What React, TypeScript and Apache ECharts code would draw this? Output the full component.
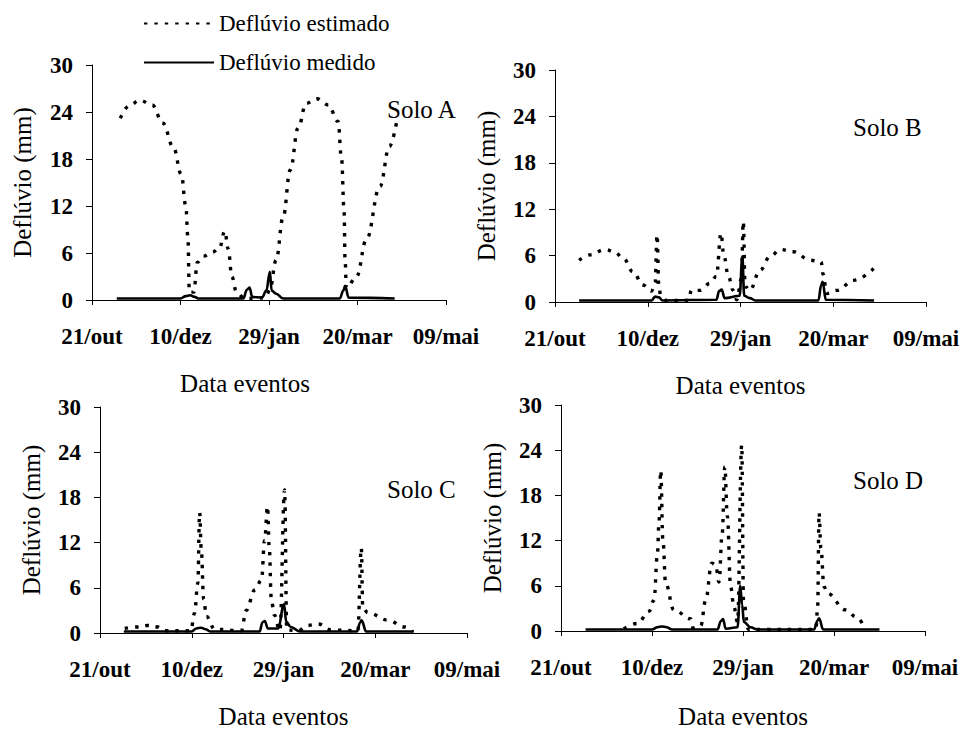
import React, { useEffect, useRef } from 'react';
import * as echarts from 'echarts';

// Tick labels of the event-date axis (one every 50 days from 21/out)
const dateLabels = ['21/out', '10/dez', '29/jan', '20/mar', '09/mai'];

// [days after 21/out, runoff in mm]
const soloAEstimado: [number, number][] = [
  [16, 23.2], [21, 24.8], [27, 25.5], [34, 24.9], [40, 22.6], [46, 19.5], [50.5, 16],
  [53, 12], [54.2, 8], [55, 1.0], [57.5, 1.0], [59.5, 4.8], [63, 5.6], [68, 6.1],
  [72, 6.6], [75, 8.8], [77, 6.5], [79, 3], [81.5, 1.1], [86, 0.2], [92, 0.2],
  [98, 0.3], [100.5, 1.3], [104, 5.1], [108, 10.6], [112, 16.6], [116.5, 22],
  [121, 25.1], [127, 25.7], [133.5, 24.9], [139, 22.8], [141, 18], [142.4, 11.5],
  [143, 5], [143.7, 1.5], [149.5, 3], [155, 7.7], [162.7, 14.5], [168, 19.6], [172, 22.6],
];
const soloAMedido: [number, number][] = [
  [14, 0.2], [50, 0.2], [53, 0.5], [55.5, 0.6], [58, 0.4], [60, 0.2], [85.5, 0.2],
  [87.5, 1.3], [89, 1.6], [90.5, 0.4], [96, 0.3], [98.5, 1.2], [100.5, 3.6],
  [101.5, 1.2], [104, 0.8], [108, 0.2], [140, 0.2], [142, 1.2], [143, 1.8],
  [145, 0.3], [171, 0.2],
];

const soloBEstimado: [number, number][] = [
  [13, 5.4], [19, 6.1], [27, 6.8], [32, 6.5], [37, 5.6], [42, 3.9], [47.5, 2.2],
  [52, 1.4], [54, 2.5], [55, 8.7], [56, 2], [57, 0.8], [60, 0.2], [72, 0.2],
  [73.5, 1.5], [78, 1.5], [83.5, 2.4], [87, 3.3], [89.5, 8.9], [91, 6], [93.5, 3.3],
  [96, 1.5], [98, 0.3], [100.5, 3], [101.5, 10.4], [102.5, 2], [105, 1.5],
  [110.5, 4.1], [116, 5.9], [121.5, 6.8], [128.5, 6.5], [137.5, 5.4], [143.5, 5.2],
  [144.5, 3.6], [146.5, 1.1], [152, 1.5], [161, 2.8], [173, 4.6],
];
const soloBMedido: [number, number][] = [
  [13, 0.2], [52, 0.2], [54, 0.7], [56, 0.6], [58, 0.2], [87, 0.3], [88.5, 1.4],
  [89.8, 1.6], [91.5, 0.5], [99.5, 0.8], [101, 5.9], [102, 0.8], [105, 0.5],
  [108, 0.2], [142, 0.2], [143.5, 2.2], [144.3, 2.6], [146, 0.3], [172, 0.2],
];

const soloCEstimado: [number, number][] = [
  [13.5, 0.6], [20.5, 0.8], [26, 1.0], [31.5, 0.8], [35, 0.3], [49.5, 0.3],
  [51.5, 2.6], [53.3, 6.6], [54.3, 16], [55.2, 11], [56.5, 4.5], [58, 2.2],
  [62.5, 0.5], [77, 0.3], [79.7, 3], [84.3, 5.7], [88, 7], [89.7, 12.3],
  [91.3, 16.8], [92.2, 11.5], [93.4, 4.4], [95, 2.4], [98, 0.3], [100.6, 19],
  [101.8, 0.4], [108, 0.3], [113, 1.0], [119, 1.2], [126, 0.4], [140.5, 0.3],
  [142.4, 11.3], [143.2, 3.3], [146, 2.7], [157, 1.7], [166, 0.8], [170.5, 0.2],
];
const soloCMedido: [number, number][] = [
  [13, 0.2], [50, 0.2], [52.5, 0.6], [55, 0.7], [57.5, 0.5], [60, 0.2], [87, 0.2],
  [88.5, 1.4], [89.8, 1.6], [91.5, 0.6], [97, 0.6], [100.3, 3.8], [101.5, 1.5],
  [104, 0.8], [109, 0.2], [140, 0.2], [141.8, 1.4], [142.6, 1.7], [145, 0.2],
  [171, 0.2],
];

const soloDEstimado: [number, number][] = [
  [34.5, 0.3], [42, 1.0], [48.4, 2.6], [51.1, 4.1], [53, 10.3], [53.8, 14.3],
  [54.8, 21.3], [56, 12], [57.5, 6.3], [62, 2.8], [71.3, 1.6], [72.5, 0.4],
  [76.8, 0.7], [79.5, 4.1], [82.8, 9], [85, 8.8], [86.8, 6.5], [88.6, 13],
  [90, 21.8], [91.4, 15.2], [93.2, 5.9], [95, 3.2], [97, 1.2], [99.3, 24.7],
  [100.3, 4], [103, 0.2], [140, 0.2], [141, 3], [141.8, 15.7], [142.8, 11],
  [144.5, 5.9], [146.3, 5], [156.4, 2.8], [162, 1.9], [166.5, 0.6],
];
const soloDMedido: [number, number][] = [
  [13.5, 0.2], [50, 0.2], [53, 0.5], [55.5, 0.6], [58, 0.5], [61, 0.2], [86, 0.2],
  [87.8, 1.3], [89, 1.6], [90.5, 0.3], [97, 0.5], [98.5, 6], [99.5, 3.5],
  [100.5, 1.2], [104, 0.5], [108, 0.2], [139, 0.2], [141, 1.4], [141.8, 1.7],
  [144, 0.2], [175, 0.2],
];

const soilNames = ['Solo A', 'Solo B', 'Solo C', 'Solo D'];
const estimated = [soloAEstimado, soloBEstimado, soloCEstimado, soloDEstimado];
const measured = [soloAMedido, soloBMedido, soloCMedido, soloDMedido];

const SERIES_EST = 'Deflúvio estimado';
const SERIES_MED = 'Deflúvio medido';

// Panel placement (pixels)
const grids = [
  { left: 92, top: 65, width: 354, height: 235 },
  { left: 555, top: 70, width: 371, height: 232 },
  { left: 100, top: 407, width: 367, height: 227 },
  { left: 561, top: 405, width: 364, height: 227 },
];
const soilLabelPos = [
  { left: 387, top: 97 },
  { left: 853, top: 115 },
  { left: 387, top: 477 },
  { left: 853, top: 468 },
];
const xNamePadding = [[0, 48, 0, 0], 0, 0, 0];
const xNameGap = [71, 71, 71, 73];
const yNameGap = [57, 56, 56, 56];

const FONT = 'Liberation Serif';

export default function App() {
  const ref = useRef<HTMLDivElement>(null);

  useEffect(() => {
    if (!ref.current) return;
    const chart = echarts.init(ref.current, undefined, { renderer: 'svg' });

    const tickLabel = {
      color: '#000',
      fontSize: 23,
      fontWeight: 'bold' as const,
      fontFamily: FONT,
    };

    const xAxis = grids.map((_, i) => ({
      gridIndex: i,
      type: 'value' as const,
      min: 0,
      max: 200,
      interval: 50,
      axisLine: { show: true, onZero: false, lineStyle: { color: '#000', width: 1 } },
      axisTick: { show: true, length: 5, lineStyle: { color: '#000', width: 1 } },
      splitLine: { show: false },
      axisLabel: {
        ...tickLabel,
        margin: 25,
        formatter: (v: number) => dateLabels[Math.round(v / 50)] ?? '',
      },
      name: 'Data eventos',
      nameLocation: 'middle' as const,
      nameGap: xNameGap[i],
      nameTextStyle: {
        color: '#000',
        fontSize: 25,
        fontFamily: FONT,
        padding: xNamePadding[i],
      },
    }));

    const yAxis = grids.map((_, i) => ({
      gridIndex: i,
      type: 'value' as const,
      min: 0,
      max: 30,
      interval: 6,
      axisLine: { show: true, lineStyle: { color: '#000', width: 1 } },
      axisTick: { show: true, length: 6, lineStyle: { color: '#000', width: 1 } },
      splitLine: { show: false },
      axisLabel: { ...tickLabel, margin: 19 },
      name: 'Deflúvio (mm)',
      nameLocation: 'middle' as const,
      nameGap: yNameGap[i],
      nameTextStyle: { color: '#000', fontSize: 25, fontFamily: FONT },
    }));

    const series: any[] = [];
    grids.forEach((_, i) => {
      series.push({
        type: 'line',
        name: SERIES_EST,
        xAxisIndex: i,
        yAxisIndex: i,
        data: estimated[i],
        smooth: 0.4,
        smoothMonotone: 'x',
        symbol: 'none',
        showSymbol: false,
        lineStyle: { color: '#000', width: 3.4, type: [3.4, 7] },
        itemStyle: { color: '#000' },
        z: 3,
      });
      series.push({
        type: 'line',
        name: SERIES_MED,
        xAxisIndex: i,
        yAxisIndex: i,
        data: measured[i],
        smooth: 0.4,
        smoothMonotone: 'x',
        symbol: 'none',
        showSymbol: false,
        lineStyle: { color: '#000', width: 2.6, type: 'solid' },
        itemStyle: { color: '#000' },
        z: 4,
      });
    });

    chart.setOption({
      animation: false,
      backgroundColor: '#fff',
      grid: grids,
      xAxis,
      yAxis,
      legend: {
        orient: 'vertical',
        left: 138,
        top: 7,
        itemWidth: 70,
        itemHeight: 12,
        itemGap: 16,
        selectedMode: false,
        itemStyle: { opacity: 0 },
        data: [SERIES_EST, SERIES_MED],
        textStyle: { color: '#000', fontSize: 23, fontFamily: FONT },
      },
      graphic: soilNames.map((name, i) => ({
        type: 'text',
        left: soilLabelPos[i].left,
        top: soilLabelPos[i].top,
        style: { text: name, fill: '#000', fontSize: 25, fontFamily: FONT },
      })),
      series,
    });

    return () => chart.dispose();
  }, []);

  return (
    <div
      ref={ref}
      style={{ position: 'fixed', left: 0, top: 0, width: 967, height: 730, background: '#fff' }}
    />
  );
}
